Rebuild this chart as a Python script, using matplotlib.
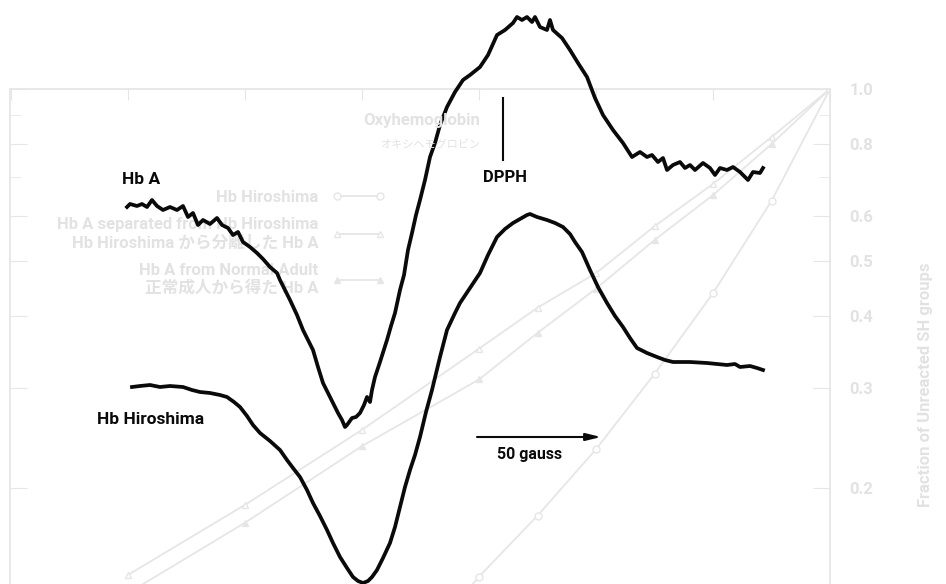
import numpy as np
import matplotlib.pyplot as plt
from matplotlib.lines import Line2D
from matplotlib.ticker import FixedLocator, NullFormatter

# EPR traces (field position, deflection; y grows downward)
hba_field = [127, 130, 137, 142, 147, 152, 157, 163, 170, 177, 183, 188, 193, 198, 203,
             210, 217, 222, 228, 233, 238, 243, 250, 257, 263, 270, 277, 280, 285, 290,
             297, 303, 308, 313, 318, 323, 328, 333, 338, 342, 345, 347, 352, 356, 360,
             364, 367, 370, 372, 375, 380, 387, 391, 395, 400, 404, 408, 412, 416, 420,
             425, 430, 435, 440, 447, 455, 463, 470, 480, 488, 497, 505, 513, 517, 522,
             527, 532, 535, 540, 547, 550, 553, 562, 570, 578, 587, 595, 603, 613, 623,
             632, 640, 647, 652, 658, 663, 667, 673, 680, 685, 690, 695, 703, 710, 715,
             720, 727, 733, 740, 748, 753, 760, 763]
hba_signal = [207, 204, 206, 204, 207, 200, 206, 210, 207, 210, 206, 217, 213, 225, 220,
              224, 218, 225, 228, 235, 232, 242, 247, 253, 259, 267, 273, 280, 290, 300,
              315, 330, 340, 350, 367, 383, 393, 403, 413, 420, 427, 425, 418, 417, 413,
              405, 397, 402, 390, 377, 362, 340, 326, 313, 290, 275, 250, 233, 215, 200,
              180, 157, 143, 125, 107, 92, 80, 75, 67, 55, 35, 30, 23, 17, 20,
              17, 22, 17, 27, 30, 20, 30, 38, 50, 63, 77, 98, 115, 130, 143,
              157, 152, 157, 155, 162, 158, 170, 165, 162, 168, 165, 170, 163, 168, 175,
              168, 170, 167, 172, 180, 172, 173, 168]

hbh_field = [132, 140, 150, 160, 170, 183, 192, 200, 210, 220, 227, 234, 240, 247, 253,
             260, 265, 270, 280, 287, 293, 300, 307, 313, 320, 327, 333, 340, 347, 353,
             358, 363, 368, 372, 377, 383, 390, 395, 400, 405, 410, 415, 420, 426, 432,
             440, 447, 455, 460, 470, 480, 488, 497, 505, 513, 520, 527, 530, 537, 547,
             555, 563, 570, 575, 582, 590, 598, 607, 615, 623, 630, 637, 647, 657, 665,
             673, 690, 707, 717, 727, 735, 740, 750, 757, 763]
hbh_signal = [387, 386, 385, 387, 386, 387, 390, 392, 393, 395, 397, 402, 407, 416, 425,
              433, 437, 441, 450, 460, 468, 477, 490, 503, 516, 530, 543, 557, 568, 577,
              581, 583, 581, 577, 570, 558, 543, 527, 507, 487, 470, 455, 437, 412, 390,
              357, 330, 313, 303, 288, 273, 255, 237, 229, 223, 219, 215, 214, 217, 220,
              223, 227, 234, 242, 252, 270, 287, 303, 316, 327, 338, 348, 353, 357, 360,
              362, 362, 363, 364, 365, 364, 367, 366, 368, 370]

# faint chart showing through from the other side of the page (mirrored)
react_time = [0, 0.5, 1, 1.5, 2, 2.5, 3, 4, 5, 6]
frac_sep_hba = [1.0, 0.824, 0.682, 0.575, 0.476, 0.414, 0.351, 0.253, 0.187, 0.141]
frac_norm_hba = [1.0, 0.801, 0.652, 0.544, 0.447, 0.374, 0.310, 0.237, 0.174, 0.131]
react_time_hbh = [0, 0.5, 1, 1.5, 2, 2.5, 3, 3.5]
frac_hbh = [1.0, 0.637, 0.439, 0.317, 0.234, 0.179, 0.140, 0.105]
frac_ticks = [0.2, 0.3, 0.4, 0.5, 0.6, 0.8, 1.0]
frac_labels = ["0.2", "0.3", "0.4", "0.5", "0.6", "0.8", "1.0"]
frac_minor = [0.7, 0.9]
time_ticks = [0, 1, 2, 3, 4, 5, 6, 7]

W, H = 946, 584
fig = plt.figure(figsize=(W / 100, H / 100), dpi=100)
fig.patch.set_facecolor("white")

label_font = ["Roboto", "DejaVu Sans"]
cjk_font = ["Roboto", "Noto Sans CJK JP", "DejaVu Sans"]
faint = "#e2e2e2"
faint_line = "#e6e6e6"
ink = "#0a0a0a"

# background chart, log scale, time running leftwards
top_px, px_per_decade = 89, 571
bot_px = top_px + px_per_decade
ax_bg = fig.add_axes([10 / W, 1 - bot_px / H, 820 / W, (bot_px - top_px) / H])
ax_bg.set_yscale("log")
ax_bg.set_ylim(0.1, 1.0)
ax_bg.set_xlim(7.01, 0)
ax_bg.plot(react_time, frac_sep_hba, color=faint_line, lw=1.3, marker="^",
           mfc="white", ms=5, mew=1)
ax_bg.plot(react_time, frac_norm_hba, color=faint_line, lw=1.3, marker="^",
           mfc=faint_line, ms=5, mew=1)
ax_bg.plot(react_time_hbh, frac_hbh, color=faint_line, lw=1.3, marker="o",
           mfc="white", ms=5, mew=1)
ax_bg.yaxis.set_major_locator(FixedLocator(frac_ticks))
ax_bg.yaxis.set_minor_locator(FixedLocator(frac_minor))
ax_bg.yaxis.set_minor_formatter(NullFormatter())
ax_bg.set_yticklabels(frac_labels)
ax_bg.set_xticks(time_ticks)
ax_bg.tick_params(axis="y", which="both", direction="in", left=True, right=True,
                  labelleft=False, labelright=True, color=faint_line, labelcolor=faint,
                  labelsize=12, pad=14)
ax_bg.tick_params(axis="y", which="major", length=12)
ax_bg.tick_params(axis="y", which="minor", length=8)
ax_bg.tick_params(axis="x", direction="in", top=True, bottom=False, labeltop=False,
                  labelbottom=False, length=8, color=faint_line)
for lab in ax_bg.get_yticklabels():
    lab.set_family(label_font)
    lab.set_weight("bold")
for side in ["left", "right", "top"]:
    ax_bg.spines[side].set_color(faint_line)
    ax_bg.spines[side].set_linewidth(1.3)
ax_bg.spines["bottom"].set_visible(False)
ax_bg.patch.set_alpha(0)

handles = [
    Line2D([], [], color=faint_line, marker="o", mfc="white", ms=5, lw=1.3),
    Line2D([], [], color=faint_line, marker="^", mfc="white", ms=5, lw=1.3),
    Line2D([], [], color=faint_line, marker="^", mfc=faint_line, ms=5, lw=1.3),
]
labels = ["Hb Hiroshima",
          "Hb A separated from Hb Hiroshima\nHb Hiroshima から分離した Hb A",
          "Hb A from Normal Adult\n正常成人から得た Hb A"]
leg = ax_bg.legend(handles, labels, loc="upper right", bbox_to_anchor=(400 / W, 1 - 175 / H),
                   bbox_transform=fig.transFigure, markerfirst=False, frameon=False,
                   numpoints=2, handlelength=3.2, labelspacing=0.75,
                   labelcolor=faint, prop={"family": cjk_font, "weight": "bold", "size": 12})
for t in leg.get_texts():
    t.set_multialignment("right")

# overlay axes in scan coordinates for the EPR traces
ax = fig.add_axes([0, 0, 1, 1])
ax.set_xlim(0, W)
ax.set_ylim(H, 0)
ax.axis("off")

ax.text(480, 121, "Oxyhemoglobin", ha="right", va="center", fontsize=12,
        color=faint, family=label_font, weight="bold")
ax.text(480, 145, "オキシヘモグロビン", ha="right", va="center", fontsize=8,
        color=faint, family=cjk_font)
ax.text(925, 385, "Fraction of Unreacted SH groups", rotation=90, ha="center",
        va="center", fontsize=12, color=faint, family=label_font, weight="bold")

ax.plot(hba_field, hba_signal, color=ink, lw=2.7, solid_joinstyle="round")
ax.plot(hbh_field, hbh_signal, color=ink, lw=2.7, solid_joinstyle="round")

ax.plot([503, 503], [98, 160], color=ink, lw=1.5)
ax.text(505, 177, "DPPH", ha="center", va="center", fontsize=12, weight="bold",
        family=label_font, color=ink)
ax.text(122, 180, "Hb A", ha="left", va="center", fontsize=12.5, weight="bold",
        family=label_font, color=ink)
ax.text(97, 419, "Hb Hiroshima", ha="left", va="center", fontsize=12.5, weight="bold",
        family=label_font, color=ink)
ax.annotate("", xy=(601, 437), xytext=(477, 437),
            arrowprops=dict(arrowstyle="-|>,head_length=0.9,head_width=0.22",
                            color=ink, lw=1.5, shrinkA=0, shrinkB=0))
ax.text(530, 455, "50 gauss", ha="center", va="center", fontsize=11.5, weight="bold",
        family=label_font, color=ink)

fig.savefig("out.png", dpi=100)
